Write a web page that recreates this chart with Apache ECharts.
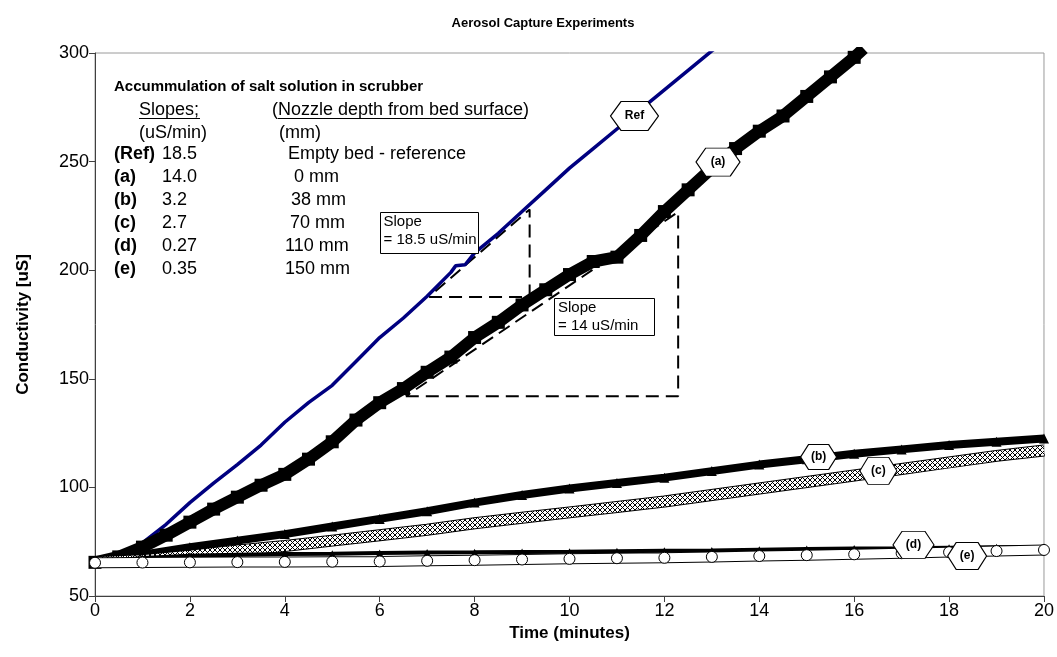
<!DOCTYPE html>
<html>
<head>
<meta charset="utf-8">
<title>Aerosol Capture Experiments</title>
<style>
    html, body { margin: 0; padding: 0; background: #fff; }
    #container { width: 1057px; height: 657px; }
</style>
</head>
<body>
<div id="container"></div>
<script src="https://cdn.jsdelivr.net/npm/echarts/dist/echarts.min.js"></script>
<script type="text/javascript">
    // ---- data (time in minutes, conductivity in uS) ----
    var refTime = [0, 0.5, 1, 1.5, 2, 2.5, 3, 3.5, 4, 4.5, 5, 5.5, 6, 6.5, 7, 7.5, 7.6, 7.8, 8, 8.5, 9, 9.5, 10, 10.5, 11, 11.5, 12, 12.5, 13, 13.2];
    var refVal = [65.5, 69, 74.5, 83, 93, 102, 110.5, 119.5, 130, 139, 147, 158, 169, 178, 188, 199, 202, 202.5, 208, 217, 227, 237, 247, 256, 265, 274, 283, 292, 301, 304];

    var aTime = [0, 0.5, 1, 1.5, 2, 2.5, 3, 3.5, 4, 4.5, 5, 5.5, 6, 6.5, 7, 7.5, 8, 8.5, 9, 9.5, 10, 10.5, 11, 11.5, 12, 12.5, 13, 13.5, 14, 14.5, 15, 15.5, 16, 16.2];
    var aVal = [65.5, 68, 72.5, 78, 84, 90, 95.5, 101, 106, 113, 121, 131, 139, 145.5, 153, 160, 169, 176, 184, 191, 198, 204, 206, 216, 227, 237, 247, 256, 264, 271, 280, 289, 298, 302];

    var minuteTime = [0, 1, 2, 3, 4, 5, 6, 7, 8, 9, 10, 11, 12, 13, 14, 15, 16, 17, 18, 19, 20];
    var bVal = [65.5, 69, 72.5, 75.5, 78.5, 82, 85.5, 89, 93, 96.5, 99.5, 102, 104.5, 107.5, 110.5, 113, 115.5, 117.5, 119.5, 121, 122.5];
    var cVal = [65.5, 66.5, 68.5, 71, 73, 75.5, 78, 80.5, 83.5, 86, 88.5, 91, 93.5, 96.5, 99.5, 102.5, 105.5, 108.5, 111.5, 114.5, 117];
    var dVal = [65.5, 67.5, 68.5, 69, 69.3, 69.5, 69.8, 70, 70.1, 70.3, 70.4, 70.6, 70.8, 71, 71.3, 71.6, 71.9, 72, 72.2, 72.4, 72.6];
    var eVal = [65.3, 65.4, 65.5, 65.6, 65.7, 65.8, 65.9, 66.2, 66.5, 66.8, 67.1, 67.4, 67.6, 68, 68.4, 68.8, 69.2, 69.7, 70.2, 70.7, 71.2];

    // slope construction triangles [time, uS]
    var refSlopeTri = [[7.04, 187.7], [9.16, 187.7], [9.16, 228], [7.04, 187.7]];
    var aSlopeTri = [[6.55, 142], [12.29, 142], [12.29, 226.8], [6.55, 142]];

    // hexagon callouts: text, time, uS
    var calloutText = ['Ref', '(a)', '(b)', '(c)', '(d)', '(e)'];
    var calloutTime = [11.37, 13.13, 15.25, 16.51, 17.25, 18.38];
    var calloutVal = [271, 249.8, 114, 107.6, 73.5, 68.4];

    // text block in the upper left
    var noteTitle = 'Accummulation of salt solution in scrubber';
    var rowLabels = ['(Ref)', '(a)', '(b)', '(c)', '(d)', '(e)'];
    var rowSlopes = ['18.5', '14.0', '3.2', '2.7', '0.27', '0.35'];
    var rowDepths = ['Empty bed - reference', '0 mm', '38 mm', '70 mm', '110 mm', '150 mm'];

    function zip(xs, ys) {
        return xs.map(function (x, i) { return [x, ys[i]]; });
    }

    var FONT = '"Liberation Sans", Arial, sans-serif';
    var hexPath = 'path://M0,50 L22,0 L78,0 L100,50 L78,100 L22,100 Z';
    var hexSize = [[48, 29], [44, 28], [36, 25], [37, 27], [41, 27], [39, 27]];

    function callout(i) {
        return {
            silent: true,
            symbol: hexPath,
            symbolKeepAspect: false,
            data: [{
                coord: [calloutTime[i], calloutVal[i]],
                symbolSize: hexSize[i],
                label: { formatter: calloutText[i] }
            }],
            itemStyle: { color: '#fff', borderColor: '#000', borderWidth: 1 },
            label: { show: true, position: 'inside', color: '#000', fontSize: 12, fontWeight: 'bold', fontFamily: FONT }
        };
    }

    // cross hatch texture for series (c)
    var hatch = document.createElement('canvas');
    hatch.width = 5;
    hatch.height = 5;
    var g = hatch.getContext('2d');
    g.fillStyle = '#fff';
    g.fillRect(0, 0, 5, 5);
    g.strokeStyle = '#000';
    g.lineWidth = 1;
    g.beginPath();
    g.moveTo(0, 0); g.lineTo(5, 5);
    g.moveTo(5, 0); g.lineTo(0, 5);
    g.stroke();

    var dashStyle = { color: '#000', width: 2, type: [13, 7] };

    var series = [
        { type: 'line', data: refSlopeTri, symbol: 'none', silent: true, lineStyle: dashStyle, z: 1 },
        { type: 'line', data: aSlopeTri, symbol: 'none', silent: true, lineStyle: dashStyle, z: 1 },
        {
            name: 'Ref', type: 'line', data: zip(refTime, refVal), symbol: 'none',
            lineStyle: { color: '#000080', width: 3.5 }, z: 2,
            markPoint: callout(0)
        },
        {
            name: '(a)', type: 'line', data: zip(aTime, aVal), symbol: 'rect', symbolSize: 13,
            itemStyle: { color: '#000' }, lineStyle: { color: '#000', width: 12 }, z: 3,
            markPoint: callout(1)
        },
        {
            name: '(b)', type: 'line', data: zip(minuteTime, bVal), symbol: 'triangle', symbolSize: 10,
            itemStyle: { color: '#000' }, lineStyle: { color: '#000', width: 8 }, z: 4,
            markPoint: callout(2)
        },
        {
            type: 'line', data: zip(minuteTime, cVal), symbol: 'none', silent: true,
            lineStyle: { color: '#000', width: 12 }, z: 5
        },
        {
            name: '(c)', type: 'line', data: zip(minuteTime, cVal), symbol: 'none',
            lineStyle: { color: { image: hatch, repeat: 'repeat' }, width: 10 }, z: 5,
            markPoint: callout(3)
        },
        {
            name: '(d)', type: 'line', data: zip(minuteTime, dVal), symbol: 'triangle', symbolSize: 7,
            itemStyle: { color: '#000' }, lineStyle: { color: '#000', width: 4 }, z: 6,
            markPoint: callout(4)
        },
        {
            type: 'line', data: zip(minuteTime, eVal), symbol: 'none', silent: true,
            lineStyle: { color: '#000', width: 11 }, z: 7
        },
        {
            name: '(e)', type: 'line', data: zip(minuteTime, eVal), symbol: 'circle', symbolSize: 11,
            itemStyle: { color: '#fff', borderColor: '#000', borderWidth: 1 },
            lineStyle: { color: '#fff', width: 9 }, z: 7,
            markPoint: callout(5)
        }
    ];
    series.forEach(function (s) { s.animation = false; s.markPoint && (s.markPoint.z = 20); });

    // graphic texts
    function txt(x, y, s, size, bold) {
        return {
            type: 'text', x: x, y: y, z: 100, silent: true,
            style: { text: s, fill: '#000', font: (bold ? 'bold ' : '') + size + 'px ' + FONT, verticalAlign: 'middle' }
        };
    }
    function hline(x1, x2, y) {
        return { type: 'line', z: 100, silent: true, shape: { x1: x1, y1: y, x2: x2, y2: y }, style: { stroke: '#000', lineWidth: 1 } };
    }
    function box(x, y, w, h) {
        return { type: 'rect', z: 99, silent: true, shape: { x: x, y: y, width: w, height: h }, style: { fill: '#fff', stroke: '#000', lineWidth: 1 } };
    }

    var depthX = [288, 294, 291, 290, 285, 285];
    var graphics = [
        {
            type: 'text', x: 543, y: 23, z: 100, silent: true,
            style: { text: 'Aerosol Capture Experiments', fill: '#000', font: 'bold 13px ' + FONT, align: 'center', verticalAlign: 'middle' }
        },
        txt(114, 87, noteTitle, 15, true),
        txt(139, 110, 'Slopes;', 18, false),
        hline(139, 200, 118.5),
        txt(272, 110, '(Nozzle depth from bed surface)', 18, false),
        hline(278, 526, 118.5),
        txt(139, 133, '(uS/min)', 18, false),
        txt(279, 133, '(mm)', 18, false),
        box(380.5, 212.5, 98, 41),
        txt(383.5, 222, 'Slope', 15, false),
        txt(383.5, 240, '= 18.5 uS/min', 15, false),
        box(554.5, 298.5, 100, 37),
        txt(558, 308, 'Slope', 15, false),
        txt(558, 326, '= 14 uS/min', 15, false)
    ];
    rowLabels.forEach(function (lab, i) {
        var y = 154.5 + i * 23;
        graphics.push(txt(114, y, lab, 18, true));
        graphics.push(txt(162, y, rowSlopes[i], 18, false));
        graphics.push(txt(depthX[i], y, rowDepths[i], 18, false));
    });

    var dom = document.getElementById('container');
    var myChart = echarts.init(dom);
    var option = {
        backgroundColor: '#fff',
        animation: false,
        textStyle: { fontFamily: FONT, color: '#000' },
        grid: {
            left: 95, right: 10, top: 53, bottom: 61,
            show: true, borderColor: '#9a9a9a', borderWidth: 1, backgroundColor: '#fff'
        },
        xAxis: {
            type: 'value', min: 0, max: 20, interval: 2,
            name: 'Time (minutes)', nameLocation: 'middle', nameGap: 28,
            nameTextStyle: { fontSize: 17, fontWeight: 'bold', color: '#000', fontFamily: FONT },
            axisLine: { show: true, lineStyle: { color: '#404040', width: 1 } },
            axisTick: { show: true, length: 6, lineStyle: { color: '#404040' } },
            axisLabel: { fontSize: 18, color: '#000', margin: 6, fontFamily: FONT },
            splitLine: { show: false }
        },
        yAxis: {
            type: 'value', min: 50, max: 300, interval: 50,
            name: 'Conductivity [uS]', nameLocation: 'middle', nameGap: 63,
            nameTextStyle: { fontSize: 17, fontWeight: 'bold', color: '#000', fontFamily: FONT },
            axisLine: { show: true, lineStyle: { color: '#404040', width: 1 } },
            axisTick: { show: true, length: 6, lineStyle: { color: '#404040' } },
            axisLabel: { fontSize: 18, color: '#000', margin: 6, fontFamily: FONT },
            splitLine: { show: false }
        },
        graphic: graphics,
        series: series
    };
    if (option && typeof option === 'object') {
        myChart.setOption(option, true);
    }
</script>
</body>
</html>
